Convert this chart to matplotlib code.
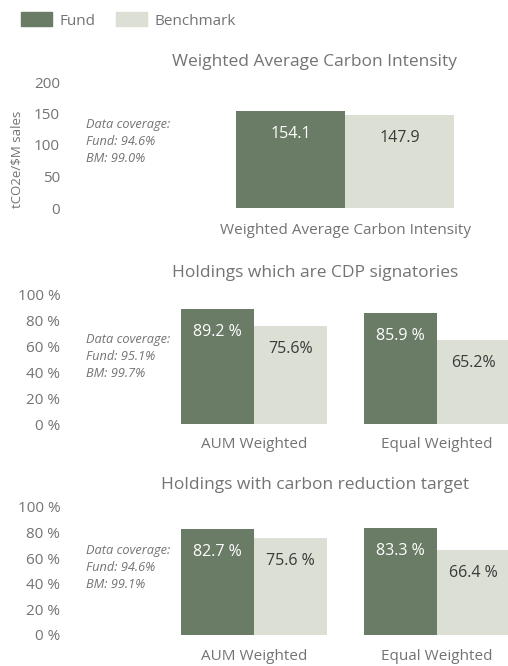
import matplotlib
matplotlib.use("Agg")
import matplotlib.pyplot as plt
import numpy as np

plt.rcParams["font.family"] = ["Open Sans", "DejaVu Sans"]

# ---- data ----
series_names = ["Fund", "Benchmark"]

wci_title = "Weighted Average Carbon Intensity"
wci_categories = ["Weighted Average Carbon Intensity"]
wci_fund = [154.1]
wci_bench = [147.9]
wci_fund_labels = ["154.1"]
wci_bench_labels = ["147.9"]
wci_ticks = [0, 50, 100, 150, 200]
wci_coverage = "Data coverage:\nFund: 94.6%\nBM: 99.0%"

cdp_title = "Holdings which are CDP signatories"
cdp_categories = ["AUM Weighted", "Equal Weighted"]
cdp_fund = [89.2, 85.9]
cdp_bench = [75.6, 65.2]
cdp_fund_labels = ["89.2 %", "85.9 %"]
cdp_bench_labels = ["75.6%", "65.2%"]
cdp_coverage = "Data coverage:\nFund: 95.1%\nBM: 99.7%"

crt_title = "Holdings with carbon reduction target"
crt_categories = ["AUM Weighted", "Equal Weighted"]
crt_fund = [82.7, 83.3]
crt_bench = [75.6, 66.4]
crt_fund_labels = ["82.7 %", "83.3 %"]
crt_bench_labels = ["75.6 %", "66.4 %"]
crt_coverage = "Data coverage:\nFund: 94.6%\nBM: 99.1%"

pct_ticks = [0, 20, 40, 60, 80, 100]
pct_tick_labels = ["0 %", "20 %", "40 %", "60 %", "80 %", "100 %"]

# ---- style ----
FUND_C = "#6a7b66"
BENCH_C = "#dcdfd4"
TEXT_C = "#737373"
W, H = 508, 666

fig = plt.figure(figsize=(W / 100, H / 100), dpi=100)


def px_axes(left, top, right, bottom):
    return fig.add_axes([left / W, 1 - bottom / H, (right - left) / W, (bottom - top) / H])


def panel(top, bottom, cats, fund, bench, flabels, blabels, ticks, tlabels,
          ymax, xlim, coverage, cov_y, cat_y):
    ax = px_axes(65, top, 508, bottom)
    x = np.arange(len(cats))
    bw = 0.4
    b1 = ax.bar(x - bw / 2, fund, bw, color=FUND_C)
    b2 = ax.bar(x + bw / 2, bench, bw, color=BENCH_C)
    for rect, lab in zip(b1, flabels):
        ax.annotate(lab, (rect.get_x() + rect.get_width() / 2, rect.get_height()),
                    xytext=(0, -16.5), textcoords="offset points",
                    ha="center", va="center", color="white", fontsize=11.5)
    for rect, lab in zip(b2, blabels):
        ax.annotate(lab, (rect.get_x() + rect.get_width() / 2, rect.get_height()),
                    xytext=(0, -16.5), textcoords="offset points",
                    ha="center", va="center", color="#3a3a3a", fontsize=11.5)
    ax.set_ylim(0, ymax)
    ax.set_xlim(*xlim)
    ax.set_yticks(ticks)
    ax.set_yticklabels(tlabels)
    ax.set_xticks([])
    ax.tick_params(axis="y", length=0, pad=3.5, labelsize=11, labelcolor=TEXT_C)
    for s in ax.spines.values():
        s.set_visible(False)
    ax.patch.set_alpha(0)
    # category labels below the axis
    for xi, c in zip(x, cats):
        ax.annotate(c, (xi, 0), xycoords=("data", "axes fraction"),
                    xytext=(0, -(cat_y - bottom) * 0.72), textcoords="offset points",
                    ha="center", va="center", color=TEXT_C, fontsize=11)
    fig.text(86 / W, 1 - cov_y / H, coverage, ha="left", va="top",
             style="italic", color=TEXT_C, fontsize=9.2, linespacing=1.4)
    return ax


# panel 1: WACI
fig.text(315 / W, 1 - 62 / H, wci_title, ha="center", va="center", color=TEXT_C, fontsize=12.5)
panel(82, 208, wci_categories, wci_fund, wci_bench, wci_fund_labels, wci_bench_labels,
      wci_ticks, [str(t) for t in wci_ticks], 200, (-1.028, 0.598),
      wci_coverage, 118, 230)
fig.text(17 / W, 1 - 159 / H, "tCO2e/$M sales", rotation=90, ha="center", va="center",
         color=TEXT_C, fontsize=9.5)

# panel 2: CDP
fig.text(315 / W, 1 - 273 / H, cdp_title, ha="center", va="center", color=TEXT_C, fontsize=12.5)
panel(295, 424, cdp_categories, cdp_fund, cdp_bench, cdp_fund_labels, cdp_bench_labels,
      pct_ticks, pct_tick_labels, 100, (-1.033, 1.388), cdp_coverage, 333, 445)

# panel 3: carbon reduction target
fig.text(315 / W, 1 - 485 / H, crt_title, ha="center", va="center", color=TEXT_C, fontsize=12.5)
panel(507, 635, crt_categories, crt_fund, crt_bench, crt_fund_labels, crt_bench_labels,
      pct_ticks, pct_tick_labels, 100, (-1.033, 1.388), crt_coverage, 544, 657)

# legend
handles = [plt.Rectangle((0, 0), 1, 1, color=FUND_C), plt.Rectangle((0, 0), 1, 1, color=BENCH_C)]
fig.legend(handles, series_names, loc="center left", bbox_to_anchor=(21 / W, 1 - 20.5 / H),
           ncol=2, frameon=False, fontsize=11, handlelength=2.05, handleheight=1.0,
           handletextpad=0.5, columnspacing=1.3, labelcolor=TEXT_C,
           borderpad=0, borderaxespad=0)

fig.savefig("out.png", dpi=100)
